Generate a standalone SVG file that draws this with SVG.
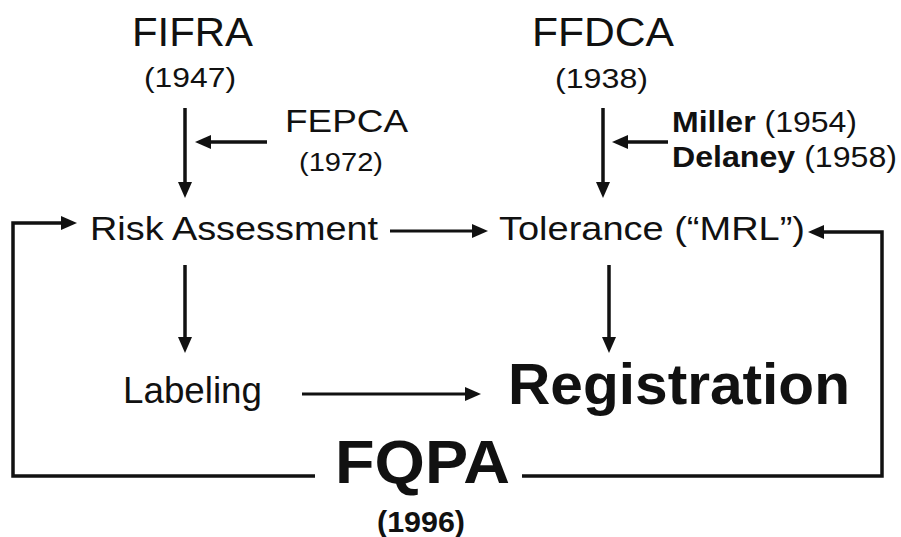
<svg xmlns="http://www.w3.org/2000/svg" width="901" height="537" viewBox="0 0 901 537">
<style>
text{font-family:"Liberation Sans",Arial,Helvetica,sans-serif;fill:#111}
.b{font-weight:bold}
.c{stroke:#111;stroke-width:3.5;fill:none;marker-end:url(#ah)}
.t{stroke-width:3}
.n{marker-end:none}
</style>
<defs>
<marker id="ah" viewBox="0 0 16 14" refX="6" refY="7" markerWidth="16" markerHeight="14" markerUnits="userSpaceOnUse" orient="auto">
<path d="M0,0 L16,7 L0,14 z" fill="#111"/>
</marker>
</defs>
<rect width="901" height="537" fill="#fff"/>
<g id="fifra">
<text x="132" y="46" font-size="41" textLength="121" lengthAdjust="spacingAndGlyphs">FIFRA</text>
<text x="144" y="87" font-size="27" textLength="92" lengthAdjust="spacingAndGlyphs">(1947)</text>
</g>
<g id="fepca">
<text x="285" y="132" font-size="31" textLength="123" lengthAdjust="spacingAndGlyphs">FEPCA</text>
<text x="299" y="171" font-size="26" textLength="84" lengthAdjust="spacingAndGlyphs">(1972)</text>
</g>
<g id="ffdca">
<text x="532" y="46" font-size="41" textLength="142" lengthAdjust="spacingAndGlyphs">FFDCA</text>
<text x="555" y="88" font-size="27" textLength="93" lengthAdjust="spacingAndGlyphs">(1938)</text>
</g>
<g id="miller-delaney">
<text x="672" y="132" font-size="29" textLength="185" lengthAdjust="spacingAndGlyphs"><tspan class="b">Miller</tspan> (1954)</text>
<text x="672" y="167" font-size="29" textLength="225" lengthAdjust="spacingAndGlyphs"><tspan class="b">Delaney</tspan> (1958)</text>
</g>
<g id="risk">
<text x="90" y="240" font-size="33" textLength="288" lengthAdjust="spacingAndGlyphs">Risk Assessment</text>
</g>
<g id="tolerance">
<text x="499" y="240" font-size="34" textLength="306" lengthAdjust="spacingAndGlyphs">Tolerance (“MRL”)</text>
</g>
<g id="labeling">
<text x="123" y="403" font-size="36" textLength="139" lengthAdjust="spacingAndGlyphs">Labeling</text>
</g>
<g id="registration">
<text x="508" y="404" font-size="57" class="b" textLength="342" lengthAdjust="spacingAndGlyphs">Registration</text>
</g>
<g id="fqpa">
<text x="335" y="483" font-size="62" class="b" textLength="175" lengthAdjust="spacingAndGlyphs">FQPA</text>
<text x="377" y="532" font-size="30" class="b" textLength="88" lengthAdjust="spacingAndGlyphs">(1996)</text>
</g>
<g id="connectors">
<path class="c" d="M185,108 V188"/>
<path class="c" d="M267,142 H205"/>
<path class="c" d="M603,108 V188"/>
<path class="c" d="M668,142 H622"/>
<path class="c t" d="M390,231 H478"/>
<path class="c" d="M185,265 V343"/>
<path class="c" d="M609,265 V343"/>
<path class="c t" d="M302,394 H471"/>
<path class="c" d="M315,476 H13 V223 H67" stroke-linejoin="miter"/>
<path class="c" d="M522,476 H882 V232 H818" stroke-linejoin="miter"/>
</g>
</svg>
